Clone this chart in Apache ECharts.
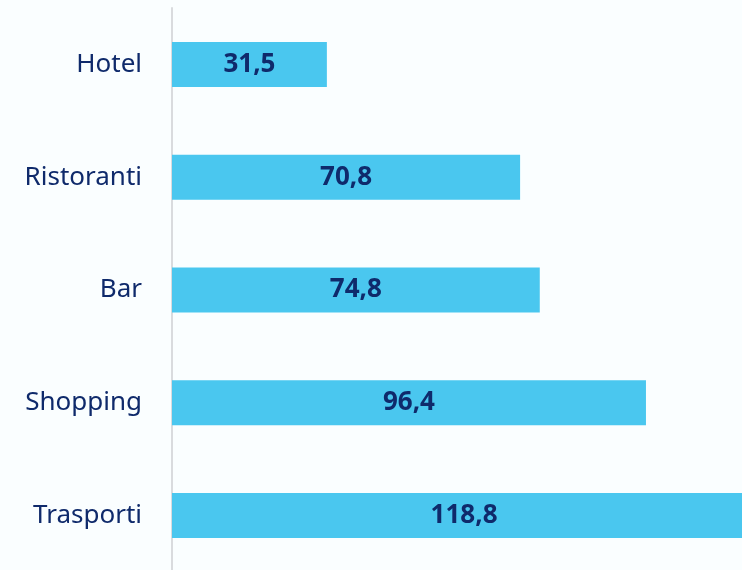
<!DOCTYPE html>
<html>
<head>
<meta charset="utf-8">
<script src="https://cdn.jsdelivr.net/npm/echarts@6/dist/echarts.min.js"></script>
<style>
  html, body { margin: 0; padding: 0; background: #fafeff; overflow: hidden; }
  /* the canvas is wider than the window, so the longest bar runs off the right edge */
  #chart { width: 762px; height: 580px; }
</style>
</head>
<body>
<div id="chart"></div>
<script>
// Spending by category (top to bottom)
const categories = ['Hotel', 'Ristoranti', 'Bar', 'Shopping', 'Trasporti'];
const values = [31.5, 70.8, 74.8, 96.4, 118.8];

const navy = '#0f2a6b';
const fontFamily = '"Noto Sans", sans-serif';

const chart = echarts.init(document.getElementById('chart'), null, { renderer: 'canvas' });
chart.setOption({
  backgroundColor: '#fafeff',
  animation: false,
  grid: { left: 172, top: 8, right: 0, height: 564, containLabel: false },
  xAxis: {
    type: 'value',
    min: 0,
    max: 120,
    show: false
  },
  yAxis: {
    type: 'category',
    inverse: true,
    data: categories,
    axisLine: { show: true, lineStyle: { color: '#d9dbde', width: 2 } },
    axisTick: { show: false },
    axisLabel: {
      margin: 30,
      color: navy,
      fontSize: 26,
      fontFamily: fontFamily
    }
  },
  series: [{
    type: 'bar',
    data: values,
    barWidth: 45,
    itemStyle: { color: '#4ac7ef' },
    label: {
      show: true,
      position: 'inside',
      color: navy,
      fontSize: 26,
      fontWeight: 'bold',
      fontFamily: fontFamily,
      formatter: p => p.value.toFixed(1).replace('.', ',')
    }
  }]
});
</script>
</body>
</html>
